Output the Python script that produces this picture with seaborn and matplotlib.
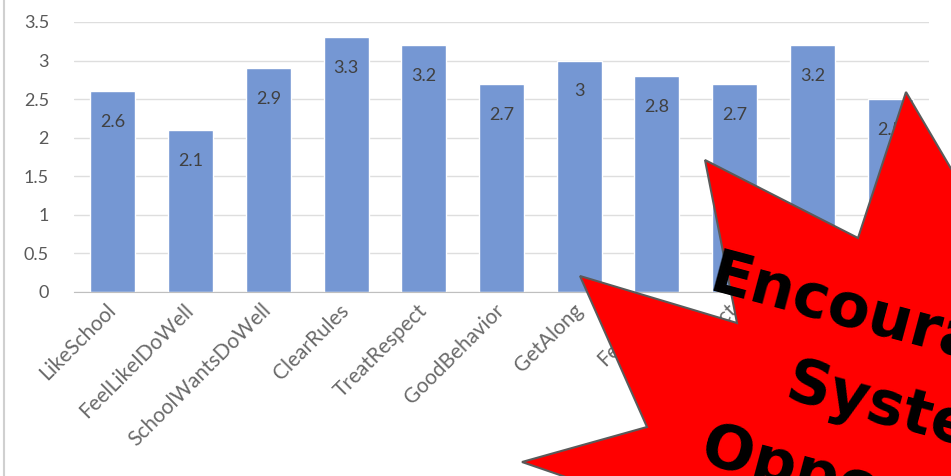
import matplotlib.pyplot as plt
import seaborn as sns
import numpy as np
from matplotlib.patches import Polygon
from matplotlib.lines import Line2D

# data
items = ['LikeSchool', 'FeelLikeIDoWell', 'SchoolWantsDoWell', 'ClearRules', 'TreatRespect',
         'GoodBehavior', 'GetAlong', 'FeelSafe', 'AdultsRespect', 'AdultsCare', 'Involved']
scores = [2.6, 2.1, 2.9, 3.3, 3.2, 2.7, 3.0, 2.8, 2.7, 3.2, 2.5]
yticks = [0, 0.5, 1, 1.5, 2, 2.5, 3, 3.5]
ytick_labels = ['0', '0.5', '1', '1.5', '2', '2.5', '3', '3.5']
banner = ['Encouraging', 'Systemic', 'Opportunities']

sns.set_style('white')
plt.rcParams['font.family'] = ['Lato', 'DejaVu Sans']

W, H = 951, 476
fig = plt.figure(figsize=(W / 100, H / 100), dpi=100)
ax = fig.add_axes([74 / W, 1 - 292 / H, 855 / W, 270 / H])

sns.barplot(x=items, y=scores, color='#7597D3', width=0.58, saturation=1, ax=ax, zorder=2)
ax.bar_label(ax.containers[0], fmt='%g', padding=-28, fontsize=13, color='#404040')

ax.set_ylim(0, 3.5)
ax.set_xlim(-0.5, len(items) - 0.5)
ax.set_yticks(yticks)
ax.set_yticklabels(ytick_labels, fontsize=13, color='#595959')
ax.set_xticks(range(len(items)))
ax.set_xticklabels(items, rotation=45, ha='right', va='center', rotation_mode='anchor',
                   fontsize=15, color='#6a6a6a')
ax.tick_params(axis='both', length=0)
ax.tick_params(axis='y', pad=18)
ax.tick_params(axis='x', pad=11)
ax.yaxis.grid(True, color='#dedede', linewidth=1, zorder=0)
ax.set_axisbelow(True)
ax.set_xlabel('')
ax.set_ylabel('')
for side in ['top', 'right', 'left']:
    ax.spines[side].set_visible(False)
ax.spines['bottom'].set_color('#bfbfbf')

# chart frame edge on the left
fig.add_artist(Line2D([4 / W, 4 / W], [0, 1], transform=fig.transFigure,
                      color='#d0d0d0', linewidth=1.5))

# red starburst overlay (pixel coords, y down)
star_px = [(906, 92), (990, 235), (1100, 220), (1010, 330), (1100, 420), (1000, 480),
           (1050, 600), (900, 540), (800, 620), (720, 530), (522, 462), (647, 427),
           (580, 276), (737, 323), (705, 160), (858, 238)]
star = [(x / W, 1 - y / H) for x, y in star_px]
fig.add_artist(Polygon(star, closed=True, transform=fig.transFigure,
                       facecolor='#ff0000', edgecolor='#5a5a5a', linewidth=1.5, zorder=5))

starts = [(707, 290), (783, 398), (698, 462)]
for word, (x, y) in zip(banner, starts):
    fig.text(x / W, 1 - y / H, word, rotation=-15, rotation_mode='anchor',
             ha='left', va='baseline', fontsize=44, fontweight='bold',
             color='black', family=['DejaVu Sans'], zorder=6)

fig.savefig('out.png', dpi=100)
